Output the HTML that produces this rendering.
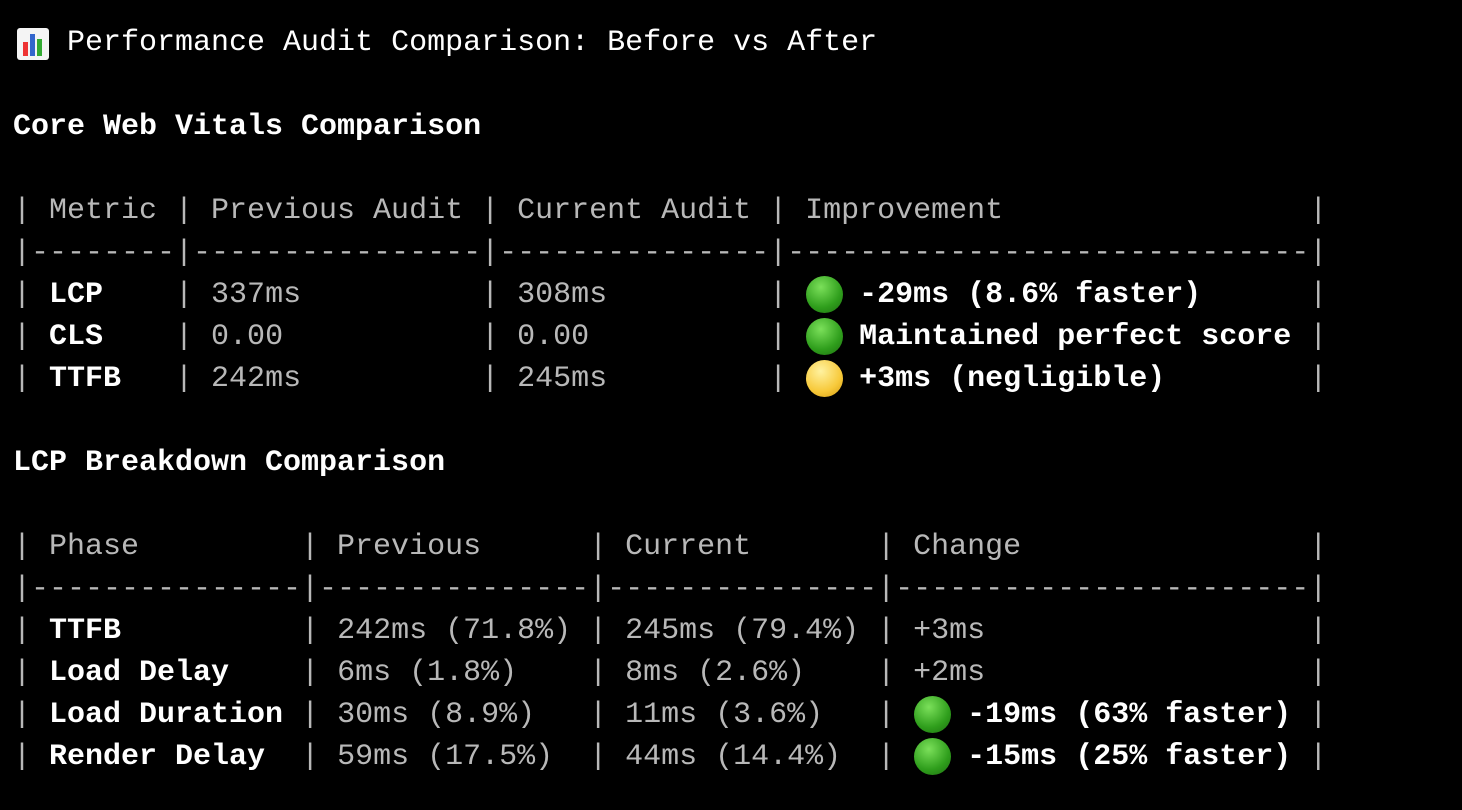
<!DOCTYPE html>
<html><head><meta charset="utf-8"><style>
html,body{margin:0;padding:0;background:#000;width:1462px;height:810px;overflow:hidden}
#t{position:absolute;left:13px;top:22px;font-family:"Liberation Mono","DejaVu Sans Mono",monospace;font-size:30px;line-height:42px;color:#b8b8b8;white-space:pre}
.l{height:42px}
b{color:#fff;font-weight:bold}
.w{color:#fff}
.e{display:inline-block;width:2ch;height:42px;position:relative;vertical-align:top}
.e::before{content:"";position:absolute;left:1px;top:2px;width:37px;height:37px;border-radius:50%}
.g::before{background:radial-gradient(circle at 40% 30%,#7be05a,#2f9e1c 60%,#1d6e10)}
.y::before{background:radial-gradient(circle at 40% 30%,#fff2a0,#f7c93a 60%,#d49a10)}
.c::before{border-radius:3px;left:4px;top:6px;width:32px;height:32px;background:
linear-gradient(#e33,#e33) 6px 14px/5px 14px no-repeat,
linear-gradient(#36c,#36c) 13px 6px/5px 22px no-repeat,
linear-gradient(#3a3,#3a3) 20px 11px/5px 17px no-repeat,#f4f4f4}
</style></head><body><div id="t"><div class="l"><span class="e c"></span> <span class="w">Performance Audit Comparison: Before vs After</span></div><div class="l"> </div><div class="l"><b>Core Web Vitals Comparison</b></div><div class="l"> </div><div class="l">| Metric | Previous Audit | Current Audit | Improvement                 |</div><div class="l">|--------|----------------|---------------|-----------------------------|</div><div class="l">| <b>LCP   </b> | 337ms          | 308ms         | <span class="e g"></span><b> -29ms (8.6% faster)</b>      |</div><div class="l">| <b>CLS   </b> | 0.00           | 0.00          | <span class="e g"></span><b> Maintained perfect score</b> |</div><div class="l">| <b>TTFB  </b> | 242ms          | 245ms         | <span class="e y"></span><b> +3ms (negligible)</b>        |</div><div class="l"> </div><div class="l"><b>LCP Breakdown Comparison</b></div><div class="l"> </div><div class="l">| Phase         | Previous      | Current       | Change                |</div><div class="l">|---------------|---------------|---------------|-----------------------|</div><div class="l">| <b>TTFB         </b> | 242ms (71.8%) | 245ms (79.4%) | +3ms                  |</div><div class="l">| <b>Load Delay   </b> | 6ms (1.8%)    | 8ms (2.6%)    | +2ms                  |</div><div class="l">| <b>Load Duration</b> | 30ms (8.9%)   | 11ms (3.6%)   | <span class="e g"></span><b> -19ms (63% faster)</b> |</div><div class="l">| <b>Render Delay </b> | 59ms (17.5%)  | 44ms (14.4%)  | <span class="e g"></span><b> -15ms (25% faster)</b> |</div></div></body></html>
